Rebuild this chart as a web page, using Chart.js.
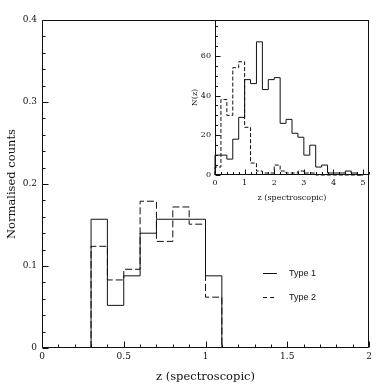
<!DOCTYPE html>
<html><head><meta charset="utf-8">
<script src="https://cdn.jsdelivr.net/npm/chart.js@4/dist/chart.umd.min.js"></script>
<style>
html,body{margin:0;padding:0;background:#fff;}
#wrap{position:relative;width:390px;height:390px;background:#fff;}
#wrap canvas{position:absolute;left:0;top:0;}
</style></head><body>
<div id="wrap"><canvas id="main" width="390" height="390"></canvas><canvas id="inset" width="390" height="390"></canvas></div>
<script>
// ---- Main panel: normalised histogram ----
const mainBinEdges = [0.3, 0.4, 0.5, 0.6, 0.7, 0.8, 0.9, 1.0, 1.1];
const mainType1 = [0.157, 0.052, 0.088, 0.140, 0.157, 0.157, 0.157, 0.088];
const mainType2 = [0.124, 0.083, 0.096, 0.179, 0.130, 0.172, 0.151, 0.062];
const mainXTicks = [0, 0.5, 1, 1.5, 2];
const mainXTickLabels = ['0', '0.5', '1', '1.5', '2'];
const mainYTicks = [0, 0.1, 0.2, 0.3, 0.4];
const mainYTickLabels = ['0', '0.1', '0.2', '0.3', '0.4'];

// ---- Inset panel: N(z) ----
const insetBinEdges = [0, 0.2, 0.4, 0.6, 0.8, 1.0, 1.2, 1.4, 1.6, 1.8, 2.0, 2.2, 2.4, 2.6, 2.8, 3.0, 3.2, 3.4, 3.6, 3.8, 4.0, 4.2, 4.4, 4.6, 4.8, 5.0];
const insetType1 = [10, 10, 8, 18, 29, 48, 46, 67, 43, 48, 49, 26, 28, 21, 19, 10, 15, 4, 5, 1, 1, 1, 2, 1, 0];
const insetType2 = [4, 38, 30, 54, 57, 24, 6, 2, 1, 1, 5, 2, 1, 1, 2, 1, 1, 0, 0, 0, 0, 0, 0, 0, 0];
const insetXTicks = [0, 1, 2, 3, 4, 5];
const insetXTickLabels = ['0', '1', '2', '3', '4', '5'];
const insetYTicks = [0, 20, 40, 60];
const insetYTickLabels = ['0', '20', '40', '60'];

const seriesNames = ['Type 1', 'Type 2'];
const xTitle = 'z (spectroscopic)';
const mainYTitle = 'Normalised counts';
const insetYTitle = 'N(z)';

const INK = '#111';
const SERIF = 'DejaVu Serif';

function stepPoints(edges, vals) {
  const pts = [{x: edges[0], y: 0}];
  for (let i = 0; i < vals.length; i++) pts.push({x: edges[i], y: vals[i]});
  pts.push({x: edges[vals.length], y: 0});
  return pts;
}

// inward ticks + frame
const frameTicks = {
  id: 'frameTicks',
  afterDraw(chart, args, o) {
    const {ctx, chartArea: a, scales: {x, y}} = chart;
    ctx.save();
    ctx.strokeStyle = INK;
    ctx.lineWidth = 1;
    const L = Math.round(a.left) + 0.5, R = Math.round(a.right) - 0.5;
    const T = Math.round(a.top) + 0.5, B = Math.round(a.bottom) - 0.5;
    ctx.beginPath();
    ctx.rect(L, T, R - L, B - T);
    const n = Math.round((o.xMax - o.xMin) / o.xMinor);
    for (let i = 0; i <= n; i++) {
      const v = o.xMin + i * o.xMinor;
      const px = Math.round(x.getPixelForValue(v)) + 0.5;
      const major = Math.abs(v / o.xMajor - Math.round(v / o.xMajor)) < 1e-6;
      ctx.moveTo(px, B);
      ctx.lineTo(px, B - (major ? o.majorLen : o.minorLen));
    }
    const m = Math.floor((o.yMax - o.yMin) / o.yMinor + 1e-6);
    for (let i = 0; i <= m; i++) {
      const v = o.yMin + i * o.yMinor;
      const py = Math.round(y.getPixelForValue(v)) + 0.5;
      const major = Math.abs(v / o.yMajor - Math.round(v / o.yMajor)) < 1e-6;
      ctx.moveTo(L, py);
      ctx.lineTo(L + (major ? o.majorLen : o.minorLen), py);
    }
    ctx.stroke();
    ctx.restore();
  }
};

const legendPlugin = {
  id: 'histLegend',
  afterDraw(chart) {
    const {ctx, scales: {x, y}} = chart;
    ctx.save();
    ctx.strokeStyle = INK;
    ctx.fillStyle = INK;
    ctx.lineWidth = 1;
    ctx.font = '9px "Liberation Sans"';
    ctx.textBaseline = 'middle';
    const x0 = x.getPixelForValue(1.352), x1 = x.getPixelForValue(1.437), xt = x.getPixelForValue(1.51);
    const ys = [y.getPixelForValue(0.0915), y.getPixelForValue(0.062)];
    const dashes = [[], [4, 3]];
    seriesNames.forEach((name, i) => {
      const py = Math.round(ys[i]) + 0.5;
      ctx.setLineDash(dashes[i]);
      ctx.beginPath();
      ctx.moveTo(x0, py);
      ctx.lineTo(x1, py);
      ctx.stroke();
      ctx.setLineDash([]);
      ctx.fillText(name, xt, py);
    });
    ctx.restore();
  }
};

function ds(label, pts, dash) {
  return {
    label, data: pts, showLine: true, stepped: 'before', borderColor: INK,
    borderWidth: 1, borderDash: dash, pointRadius: 0, fill: false, clip: false, tension: 0
  };
}

new Chart(document.getElementById('main'), {
  type: 'scatter',
  data: {
    datasets: [
      ds(seriesNames[0], stepPoints(mainBinEdges, mainType1), []),
      ds(seriesNames[1], stepPoints(mainBinEdges, mainType2), [7, 3])
    ]
  },
  options: {
    responsive: false, animation: false, devicePixelRatio: 1,
    layout: {padding: {top: 20, right: 21, bottom: 0, left: 0}},
    plugins: {
      legend: {display: false}, tooltip: {enabled: false},
      frameTicks: {xMin: 0, xMax: 2, xMinor: 0.1, xMajor: 0.5, yMin: 0, yMax: 0.4, yMinor: 0.02, yMajor: 0.1, majorLen: 6, minorLen: 3}
    },
    scales: {
      x: {
        type: 'linear', min: 0, max: 2,
        afterFit(s) { s.height = 42; },
        afterBuildTicks(s) { s.ticks = mainXTicks.map(v => ({value: v})); },
        ticks: {callback: (v, i) => mainXTickLabels[i], color: INK, font: {family: SERIF, size: 9}, padding: 3, maxRotation: 0, autoSkip: false},
        grid: {display: false, drawTicks: false}, border: {display: false},
        title: {display: true, text: xTitle, color: INK, font: {family: SERIF, size: 11.5}, padding: {top: 0, bottom: 6}}
      },
      y: {
        type: 'linear', min: 0, max: 0.4,
        afterFit(s) { s.width = 42; },
        afterBuildTicks(s) { s.ticks = mainYTicks.map(v => ({value: v})); },
        ticks: {callback: (v, i) => mainYTickLabels[i], color: INK, font: {family: SERIF, size: 9}, padding: 5, autoSkip: false},
        grid: {display: false, drawTicks: false}, border: {display: false},
        title: {display: true, text: mainYTitle, color: INK, font: {family: SERIF, size: 11.5}, padding: {top: 5, bottom: 0}}
      }
    }
  },
  plugins: [frameTicks, legendPlugin]
});

new Chart(document.getElementById('inset'), {
  type: 'scatter',
  data: {
    datasets: [
      ds(seriesNames[0], stepPoints(insetBinEdges, insetType1), []),
      ds(seriesNames[1], stepPoints(insetBinEdges, insetType2), [4, 2])
    ]
  },
  options: {
    responsive: false, animation: false, devicePixelRatio: 1,
    layout: {padding: {top: 20, right: 21, bottom: 180, left: 185}},
    plugins: {
      legend: {display: false}, tooltip: {enabled: false},
      frameTicks: {xMin: 0, xMax: 5.2, xMinor: 0.2, xMajor: 1, yMin: 0, yMax: 78, yMinor: 5, yMajor: 20, majorLen: 5, minorLen: 2.5}
    },
    scales: {
      x: {
        type: 'linear', min: 0, max: 5.2,
        afterFit(s) { s.height = 35; },
        afterBuildTicks(s) { s.ticks = insetXTicks.map(v => ({value: v})); },
        ticks: {callback: (v, i) => insetXTickLabels[i], color: INK, font: {family: SERIF, size: 8}, padding: 3, maxRotation: 0, autoSkip: false},
        grid: {display: false, drawTicks: false}, border: {display: false},
        title: {display: true, text: xTitle, color: INK, font: {family: SERIF, size: 8}, padding: {top: 0, bottom: 7}}
      },
      y: {
        type: 'linear', min: 0, max: 78,
        afterFit(s) { s.width = 30; },
        afterBuildTicks(s) { s.ticks = insetYTicks.map(v => ({value: v})); },
        ticks: {callback: (v, i) => insetYTickLabels[i], color: INK, font: {family: SERIF, size: 8}, padding: 4, autoSkip: false},
        grid: {display: false, drawTicks: false}, border: {display: false},
        title: {display: true, text: insetYTitle, color: INK, font: {family: SERIF, size: 8}, padding: {top: 5, bottom: 0}}
      }
    }
  },
  plugins: [frameTicks]
});
</script>
</body></html>
